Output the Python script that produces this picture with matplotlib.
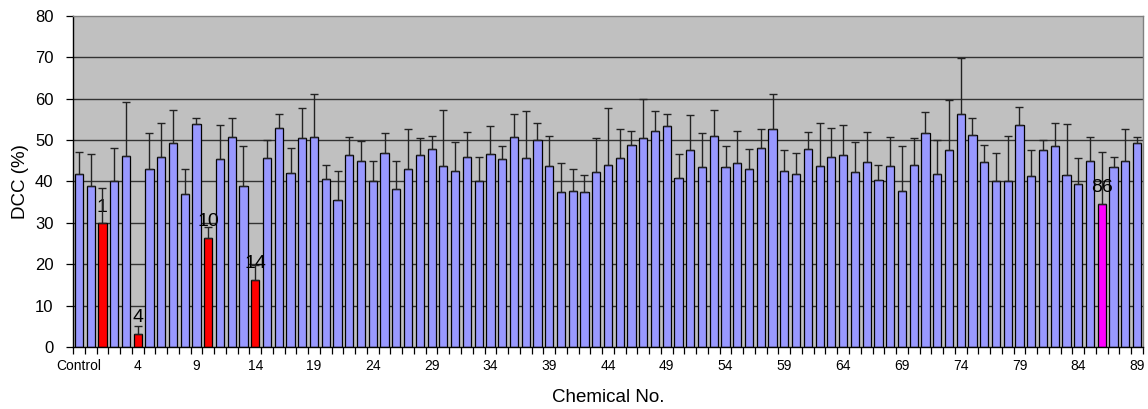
import matplotlib
matplotlib.use("Agg")
import matplotlib.pyplot as plt
import numpy as np

plt.rcParams['font.family'] = ['Liberation Sans', 'DejaVu Sans']

categories = ["Control", ""] + [str(i) for i in range(1, 90)]

values = [41.7, 38.8, 29.9, 40.0, 46.1, 3.2, 43.1, 45.8, 49.2, 36.9,
          53.9, 26.4, 45.4, 50.8, 38.8, 16.3, 45.7, 52.9, 42.1, 50.4,
          50.8, 40.6, 35.6, 46.3, 45.0, 40.2, 47.0, 38.1, 43.1, 46.3,
          47.9, 43.8, 42.5, 46.0, 40.2, 46.7, 45.4, 50.8, 45.7, 50.1,
          43.8, 37.5, 37.8, 37.5, 42.2, 44.1, 45.7, 48.8, 50.4, 52.3,
          53.3, 40.9, 47.5, 43.5, 51.1, 43.5, 44.4, 42.9, 48.2, 52.6,
          42.5, 41.9, 47.9, 43.8, 46.0, 46.3, 42.2, 44.7, 40.3, 43.8,
          37.8, 44.1, 51.7, 41.9, 47.5, 56.4, 51.3, 44.7, 40.0, 40.0,
          53.6, 41.3, 47.5, 48.5, 41.6, 39.3, 45.0, 34.6, 43.5, 45.0,
          49.2]

err_tops = [47.2, 46.6, 38.4, 48.2, 59.3, 5.1, 51.7, 54.2, 57.4, 43.1,
            55.4, 28.9, 53.6, 55.4, 48.5, 19.8, 50.1, 56.4, 48.2, 57.7,
            61.1, 44.1, 42.5, 50.8, 49.8, 45.0, 51.7, 45.0, 52.6, 50.4,
            51.1, 57.4, 49.5, 52.0, 46.0, 53.3, 48.5, 56.4, 57.1, 54.2,
            51.1, 44.4, 42.9, 41.6, 50.4, 57.7, 52.6, 52.3, 60.0, 57.1,
            56.4, 46.7, 56.1, 51.7, 57.4, 48.5, 52.3, 47.9, 52.6, 61.1,
            47.5, 47.0, 52.0, 54.2, 52.9, 53.6, 49.5, 52.0, 44.1, 50.8,
            48.5, 50.4, 56.7, 50.1, 59.6, 69.9, 55.4, 48.8, 47.0, 51.1,
            58.0, 47.5, 50.1, 54.2, 53.9, 45.7, 50.8, 47.2, 46.0, 52.6,
            50.8]

highlight_red = ["1", "4", "10", "14"]
highlight_magenta = ["86"]

BLUE = "#9999FF"
RED = "#FF0000"
MAGENTA = "#FF00FF"

x = np.arange(len(categories))
vals = np.array(values)
errs = np.array(err_tops) - vals
colors = []
for c in categories:
    if c in highlight_red:
        colors.append(RED)
    elif c in highlight_magenta:
        colors.append(MAGENTA)
    else:
        colors.append(BLUE)

fig = plt.figure(figsize=(11.48, 4.09), dpi=100)
ax = fig.add_axes([0.0636, 0.1516, 0.9320, 0.8093])
ax.set_facecolor("#C0C0C0")

ax.set_ylim(0, 80)
ax.set_xlim(-0.5, len(categories) - 0.5)
ax.set_yticks(np.arange(0, 81, 10))
for yv in range(10, 80, 10):
    ax.axhline(yv, color="#333333", lw=1.0, zorder=1)

ax.bar(x, vals, width=0.7, color=colors, edgecolor="black", linewidth=0.9, zorder=2)

for i, c in enumerate(categories):
    if c in highlight_red or c in highlight_magenta:
        ax.annotate(c, (x[i], vals[i]), xytext=(0, 5.5), textcoords="offset points",
                    ha="center", va="bottom", fontsize=14, zorder=2.5)

ax.errorbar(x, vals, yerr=[np.zeros_like(errs), errs], fmt="none",
            ecolor="#222222", elinewidth=1.0, capsize=3, capthick=1.0, zorder=3)

# x ticks: marks at category boundaries, labels every 5
ax.set_xticks(np.arange(-0.5, len(categories), 1.0), minor=False)
ax.set_xticklabels([])
ax.tick_params(axis="x", which="major", length=5, width=0.9, color="black")
lab_pos = np.arange(0, len(categories), 5)
ax.set_xticks(lab_pos, minor=True)
ax.set_xticklabels([categories[i] for i in lab_pos], minor=True, fontsize=10)
ax.tick_params(axis="x", which="minor", length=0, pad=9)

ax.tick_params(axis="y", length=5, width=0.9, labelsize=12, pad=9)

ax.set_xlabel("Chemical No.", fontsize=13.5, labelpad=11)
ax.set_ylabel("DCC (%)", fontsize=13.5, labelpad=4)

ax.spines["left"].set_color("black")
ax.spines["bottom"].set_color("black")
ax.spines["top"].set_color("#808080")
ax.spines["right"].set_color("#808080")
for s in ax.spines.values():
    s.set_linewidth(1.0)

fig.savefig("out.png", dpi=100)
